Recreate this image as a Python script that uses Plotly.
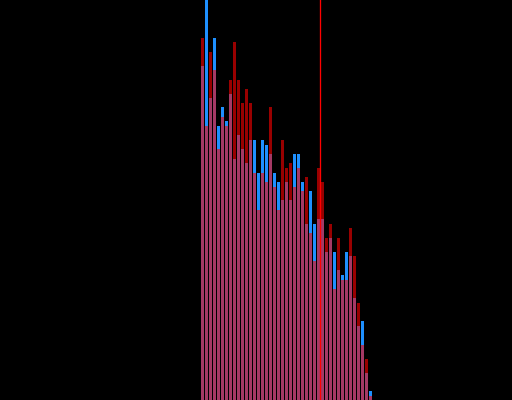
import plotly.graph_objects as go

bins = list(range(43))
blue_vals = [334, 420, 302, 362, 274, 293, 279, 306, 241, 265, 251, 237, 260, 260, 227,
             260, 255, 246, 227, 218, 200, 218, 200, 246, 246, 218, 176, 209, 176, 181,
             181, 148, 162, 148, 130, 125, 148, 144, 102, 74, 79, 27, 9]
red_vals = [362, 274, 348, 330, 251, 283, 274, 320, 358, 320, 297, 311, 297, 227, 190,
            227, 218, 293, 213, 190, 260, 232, 237, 213, 232, 209, 223, 167, 139, 232,
            218, 162, 176, 111, 162, 120, 120, 172, 144, 97, 55, 41, 4]
marker_x = 29.5

fig = go.Figure()
fig.add_trace(go.Bar(x=bins, y=blue_vals, width=0.75,
                     marker=dict(color="#1e90ff", line=dict(width=0))))
fig.add_trace(go.Bar(x=bins, y=red_vals, width=0.75, opacity=0.6,
                     marker=dict(color="#ff0000", line=dict(width=0))))
fig.add_shape(type="line", x0=marker_x, x1=marker_x, y0=0, y1=1, yref="paper",
              line=dict(color="#ff0000", width=1.3))

fig.update_layout(
    width=512, height=400,
    margin=dict(l=0, r=0, t=0, b=0),
    paper_bgcolor="black", plot_bgcolor="black",
    barmode="overlay", showlegend=False,
    xaxis=dict(visible=False, range=[-50.625, 77.375]),
    yaxis=dict(visible=False, range=[0, 400]),
)
fig.write_html(
    "out.html",
    config={"displayModeBar": False},
    post_script="document.body.style.margin='0';document.body.style.overflow='hidden';document.body.style.background='black';",
)
